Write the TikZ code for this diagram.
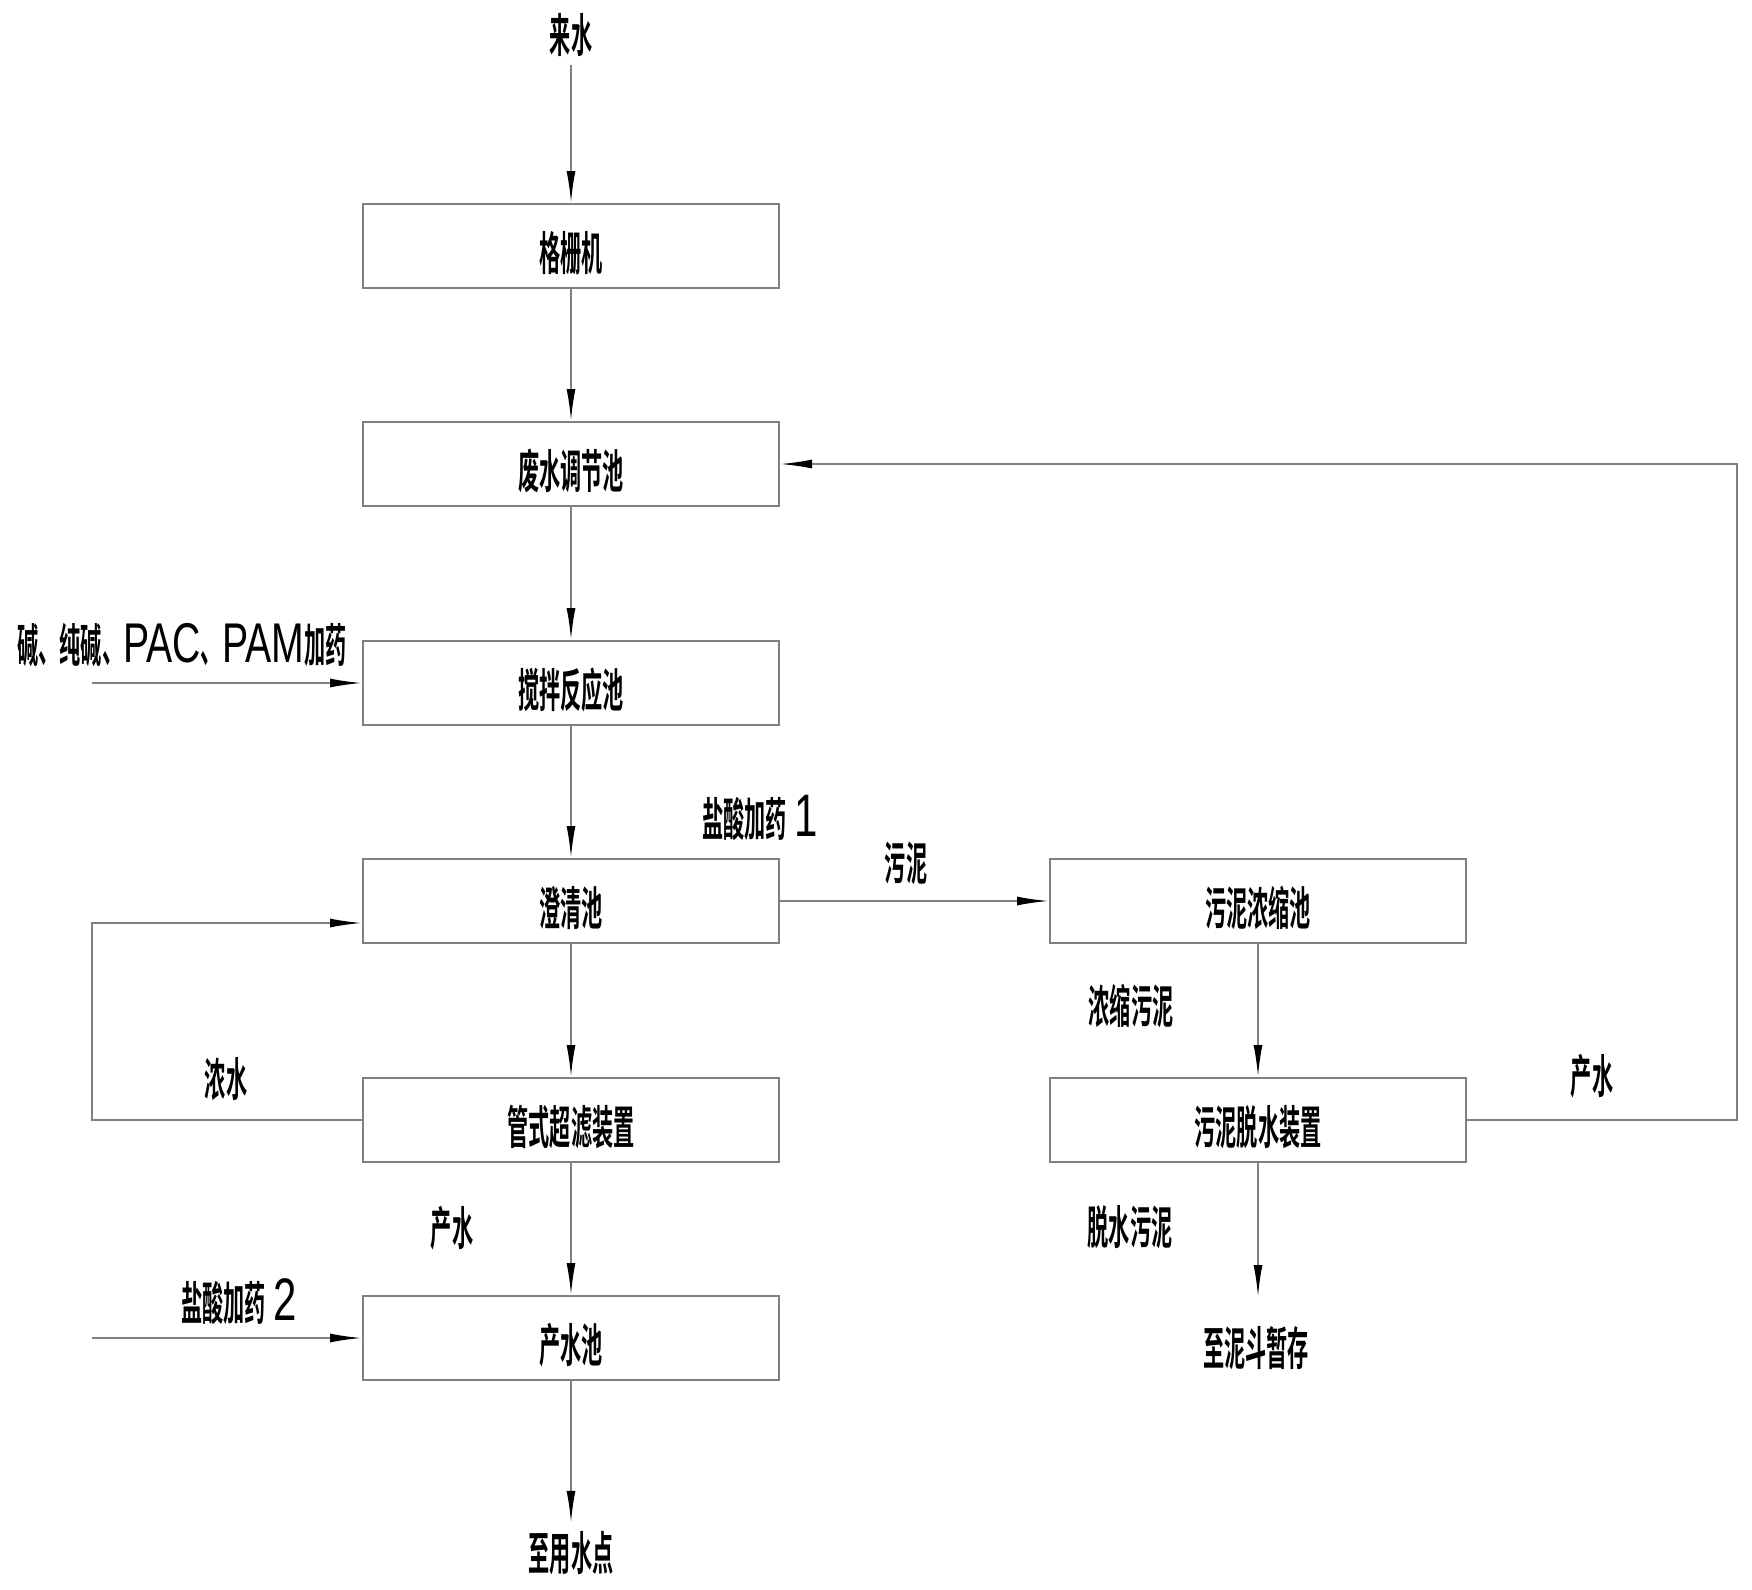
\documentclass[tikz,border=0pt]{standalone}
\usepackage{fontspec}
\newfontfamily\zhfont[FakeStretch=0.46]{Noto Sans CJK SC Bold}
\newfontfamily\latfont[FakeStretch=0.7]{Liberation Sans}
\usetikzlibrary{arrows.meta}
\newcommand\zhtext{\zhfont\fontsize{23pt}{25pt}\selectfont}
\newcommand\latbig[1]{{\latfont\fontsize{28pt}{30pt}\selectfont #1}}
\newcommand\latdig[1]{{\latfont\fontsize{30pt}{32pt}\selectfont #1}}
\tikzset{
  unit/.style={draw=black!50, line width=1pt, minimum width=208pt,
    minimum height=42pt, inner sep=0pt, text height=26pt, text depth=2pt,
    font=\zhtext},
  tag/.style={inner sep=4pt, font=\zhtext},
  flow/.style={draw=black!50, line width=1pt,
    -{Latex[length=16pt,width=4.5pt,color=black]}}
}
\begin{document}
\begin{tikzpicture}[x=0.5pt, y=-0.5pt]
    \useasboundingbox (0,0) rectangle (1752,1590);

    % main line
    \node[unit] (grid) at (571,246) {格栅机};
    \node[unit] (adjust) at (571,464) {废水调节池};
    \node[unit] (react) at (571,683) {搅拌反应池};
    \node[unit] (clarify) at (571,901) {澄清池};
    \node[unit] (uf) at (571,1120) {管式超滤装置};
    \node[unit] (product) at (571,1338) {产水池};

    % sludge line
    \node[unit] (thicken) at (1258,901) {污泥浓缩池};
    \node[unit] (dewater) at (1258,1120) {污泥脱水装置};

    \node[tag] (inflow) at (571,35) {来水};
    \node[tag] (usepoint) at (571,1553) {至用水点};
    \node[tag] (hopper) at (1256,1348) {至泥斗暂存};
    \coordinate (hopperin) at (1258,1297);

    \coordinate (rcorner) at (1737,1120);
    \coordinate (lcorner) at (92,1120);
    \coordinate (alkalifeed) at (92,683);
    \coordinate (acidfeed) at (92,1338);

    \draw[flow] (inflow) -- (grid);
    \draw[flow] (grid) -- (adjust);
    \draw[flow] (adjust) -- (react);
    \draw[flow] (react) -- (clarify);
    \draw[flow] (clarify) -- (uf);
    \draw[flow] (uf) -- (product);
    \draw[flow] (product) -- (usepoint);
    \draw[flow] (clarify) -- (thicken);
    \draw[flow] (thicken) -- (dewater);
    \draw[flow] (dewater) -- (hopperin);
    \draw[flow] (dewater.east) -- (rcorner) |- (adjust.east);
    \draw[flow] (uf.west) -- (lcorner) |- ([yshift=-11pt]clarify.west);
    \draw[flow] (alkalifeed) -- (react.west);
    \draw[flow] (acidfeed) -- (product.west);

    % labels
    \node[tag] (dosing) at (182,645) {碱、纯碱、\latbig{PAC}、\latbig{PAM}加药};
    \node[tag] (acid1) at (760,818) {盐酸加药\,\latdig{1}};
    \node[tag] (acid2) at (239,1302) {盐酸加药\,\latdig{2}};
    \node[tag] (sludge) at (906,863) {污泥};
    \node[tag] (concentrate) at (226,1079) {浓水};
    \node[tag] (permeate) at (452,1228) {产水};
    \node[tag] (thicksludge) at (1131,1006) {浓缩污泥};
    \node[tag] (filtrate) at (1592,1076) {产水};
    \node[tag] (cake) at (1130,1227) {脱水污泥};
\end{tikzpicture}
\end{document}
